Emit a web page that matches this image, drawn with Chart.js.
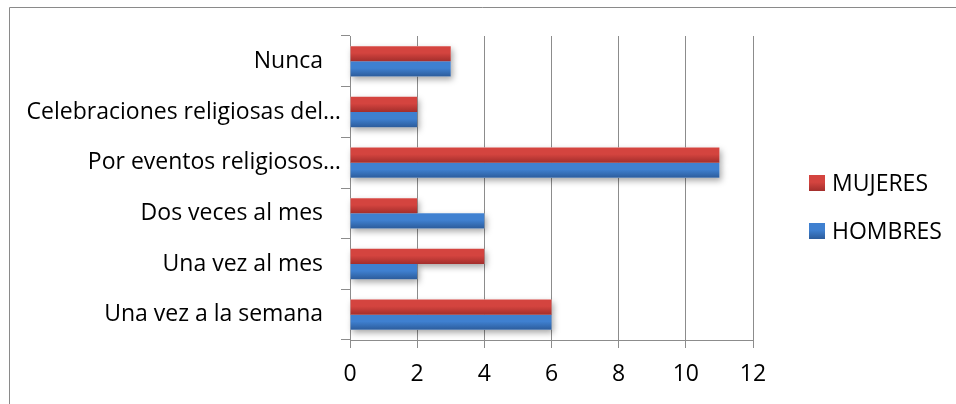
<!DOCTYPE html>
<html>
<head>
<meta charset="utf-8">
<script src="https://cdn.jsdelivr.net/npm/chart.js@4.4.1/dist/chart.umd.min.js"></script>
<style>
  html, body { margin: 0; padding: 0; background: #ffffff; }
  #wrap { width: 956px; height: 404px; }
</style>
</head>
<body>
<div id="wrap"><canvas id="c" width="956" height="404"></canvas></div>
<script>
const categories = ["Nunca   ", "Celebraciones religiosas del\u2026", "Por eventos religiosos\u2026", "Dos veces al mes   ", "Una vez al mes   ", "Una vez a la semana   "];
const seriesNames = ["MUJERES", "HOMBRES"];
const mujeres = [3, 2, 11, 2, 4, 6];
const hombres = [3, 2, 11, 4, 2, 6];
const xTickValues = [0, 2, 4, 6, 8, 10, 12];

const FONT = "'Open Sans'";
const FSIZE = 23;
const GRID = "#8c8c8c";
const palette = [
  { top: "#d4443f", bottom: "#a32e2c" },
  { top: "#3f80d0", bottom: "#2c5c9b" }
];

function barGradient(ctx, dsIndex) {
  const chart = ctx.chart;
  const c = palette[dsIndex];
  const y = chart.scales && chart.scales.y;
  if (!y || ctx.type !== 'data') return c.top;
  const center = y.getPixelForValue(ctx.dataIndex);
  const band = (y.bottom - y.top) / categories.length;
  if (!isFinite(center) || !isFinite(band) || band <= 0) return c.top;
  const thick = band * 0.6 / 2;
  const top = dsIndex === 0 ? center - thick : center;
  const g = chart.ctx.createLinearGradient(0, top, 0, top + thick);
  g.addColorStop(0, c.top);
  g.addColorStop(0.45, c.top);
  g.addColorStop(1, c.bottom);
  return g;
}

const framePlugin = {
  id: 'frame',
  beforeDraw(chart) {
    const ctx = chart.ctx;
    ctx.save();
    ctx.strokeStyle = "#8a8a8a";
    ctx.lineWidth = 1;
    ctx.beginPath();
    ctx.moveTo(9.5, 404);
    ctx.lineTo(9.5, 7.5);
    ctx.lineTo(956, 7.5);
    ctx.stroke();
    ctx.restore();
  },
  beforeDatasetsDraw(chart) {
    const ctx = chart.ctx;
    ctx.save();
    ctx.shadowColor = "rgba(0,0,0,0.35)";
    ctx.shadowBlur = 6;
    ctx.shadowOffsetX = 2;
    ctx.shadowOffsetY = 3;
    ctx.fillStyle = "#ffffff";
    [0, 1].forEach(d => {
      chart.getDatasetMeta(d).data.forEach(el => {
        const p = el.getProps(['x', 'y', 'base', 'height'], true);
        ctx.fillRect(p.base, p.y - p.height / 2, p.x - p.base, p.height);
      });
    });
    ctx.restore();
  },
  afterDraw(chart) {
    const ctx = chart.ctx;
    ctx.save();
    const items = [{ y: 175 }, { y: 223 }];
    items.forEach((it, i) => {
      const g = ctx.createLinearGradient(0, it.y, 0, it.y + 16);
      g.addColorStop(0, palette[i].top);
      g.addColorStop(0.45, palette[i].top);
      g.addColorStop(1, palette[i].bottom);
      ctx.fillStyle = g;
      ctx.fillRect(809, it.y, 16, 16);
      ctx.fillStyle = "#000000";
      ctx.font = FSIZE + "px " + FONT;
      ctx.textBaseline = "middle";
      ctx.textAlign = "left";
      ctx.fillText(seriesNames[i], 832, it.y + 9);
    });
    ctx.restore();
  }
};

new Chart(document.getElementById('c'), {
  type: 'bar',
  data: {
    labels: categories,
    datasets: [
      { label: seriesNames[0], data: mujeres, backgroundColor: (c) => barGradient(c, 0), borderWidth: 0 },
      { label: seriesNames[1], data: hombres, backgroundColor: (c) => barGradient(c, 1), borderWidth: 0 }
    ]
  },
  options: {
    indexAxis: 'y',
    responsive: false,
    animation: false,
    devicePixelRatio: 1,
    categoryPercentage: 0.6,
    barPercentage: 1.0,
    layout: { padding: { left: 0, right: 203, top: 36, bottom: 0 } },
    plugins: { legend: { display: false }, tooltip: { enabled: false } },
    scales: {
      x: {
        min: 0, max: 12,
        afterBuildTicks(s) { s.ticks = xTickValues.map(v => ({ value: v })); },
        afterFit(s) { s.height = 64; },
        ticks: { color: "#000000", font: { family: FONT, size: FSIZE }, padding: 13 },
        grid: { color: GRID, lineWidth: 1, tickLength: 8, drawTicks: true },
        border: { display: true, color: GRID, width: 1 }
      },
      y: {
        afterFit(s) { s.width = 350; },
        ticks: { color: "#000000", font: { family: FONT, size: FSIZE }, padding: 0, autoSkip: false },
        grid: { offset: true, drawOnChartArea: false, drawTicks: true, tickLength: 9, color: GRID, lineWidth: 1 },
        border: { display: true, color: GRID, width: 1 }
      }
    }
  },
  plugins: [framePlugin]
});
</script>
</body>
</html>
